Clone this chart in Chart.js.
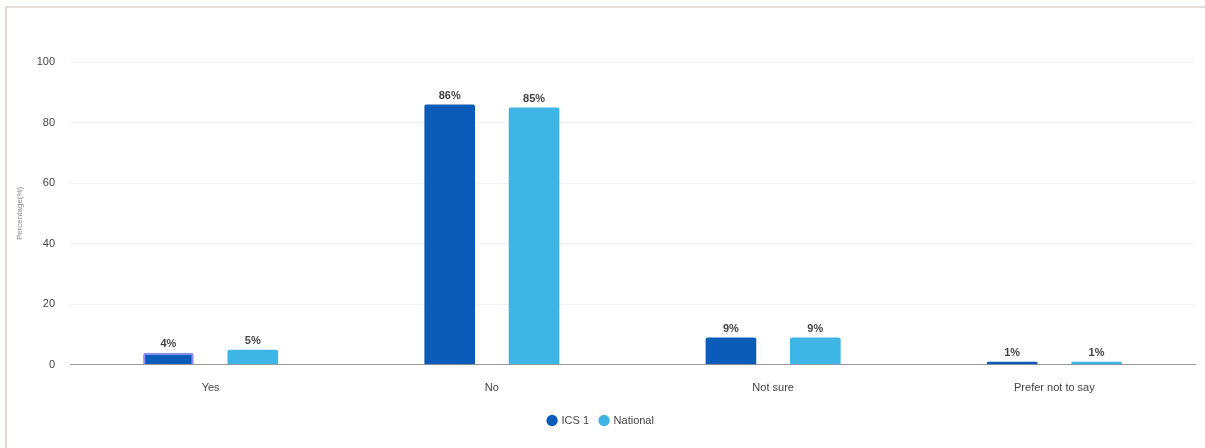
<!DOCTYPE html>
<html lang="en">

<head>
    <meta charset="UTF-8">
    <title>Percentage chart</title>
    <script src="https://cdn.jsdelivr.net/npm/chart.js"></script>
    <style>
        body { margin: 0; background: #fff; }
        #wrap {
            position: absolute; left: 5px; top: 6px;
            width: 1198px; height: 440px;
            border-left: 2px solid #e4dcd8; border-top: 2px solid #e4dcd8;
        }
    </style>
</head>

<body>
    <div id="wrap"><canvas id="chart"></canvas></div>

    <script>
        const categories = ['Yes', 'No', 'Not sure', 'Prefer not to say'];
        const ics1 = [4, 86, 9, 1];
        const national = [5, 85, 9, 1];
        const yTicks = [0, 20, 40, 60, 80, 100];

        const font = '"Liberation Sans", Arial, sans-serif';

        // percent labels above each bar
        const barLabels = {
            id: 'barLabels',
            afterDatasetsDraw(chart) {
                const ctx = chart.ctx;
                ctx.save();
                ctx.font = 'bold 11px ' + font;
                ctx.fillStyle = '#444';
                ctx.textAlign = 'center';
                ctx.textBaseline = 'bottom';
                chart.data.datasets.forEach((ds, i) => {
                    chart.getDatasetMeta(i).data.forEach((bar, j) => {
                        ctx.fillText(ds.data[j] + '%', bar.x, bar.y - 3);
                    });
                });
                ctx.restore();
            }
        };

        new Chart(document.getElementById('chart'), {
            type: 'bar',
            data: {
                labels: categories,
                datasets: [{
                    label: 'ICS 1',
                    data: ics1,
                    backgroundColor: '#0a5cb8',
                    borderColor: ['#8a8cff', '#0a5cb8', '#0a5cb8', '#0a5cb8'],
                    borderWidth: [2, 0, 0, 0],
                    borderRadius: 2,
                    borderSkipped: 'bottom'
                }, {
                    label: 'National',
                    data: national,
                    backgroundColor: '#3eb5e5',
                    borderRadius: 2,
                    borderSkipped: 'bottom'
                }]
            },
            options: {
                responsive: true,
                maintainAspectRatio: false,
                animation: false,
                categoryPercentage: 0.6,
                barPercentage: 0.6,
                layout: { padding: { top: 54, right: 10, bottom: 12, left: 0 } },
                plugins: {
                    tooltip: { enabled: false },
                    legend: {
                        position: 'bottom',
                        labels: {
                            usePointStyle: true,
                            pointStyle: 'circle',
                            boxWidth: 8,
                            boxHeight: 8,
                            padding: 11,
                            color: '#444',
                            font: { family: font, size: 11 },
                            generateLabels(chart) {
                                return chart.data.datasets.map((ds, i) => ({
                                    text: ds.label,
                                    fillStyle: ds.backgroundColor,
                                    strokeStyle: ds.backgroundColor,
                                    lineWidth: 0,
                                    pointStyle: 'circle',
                                    fontColor: '#444',
                                    hidden: false,
                                    datasetIndex: i
                                }));
                            }
                        }
                    }
                },
                scales: {
                    x: {
                        grid: { display: false },
                        border: { color: '#999', width: 1 },
                        ticks: {
                            color: '#444',
                            padding: 9,
                            font: { family: font, size: 11 }
                        }
                    },
                    y: {
                        min: 0,
                        max: 100,
                        afterBuildTicks(axis) {
                            axis.ticks = yTicks.map(v => ({ value: v }));
                        },
                        afterFit(axis) { axis.width = 63; },
                        grid: { color: '#f1f1f1', drawTicks: false },
                        border: { display: false },
                        ticks: {
                            color: '#444',
                            padding: 15,
                            font: { family: font, size: 11 }
                        },
                        title: {
                            display: true,
                            text: 'Percentage(%)',
                            color: '#888',
                            padding: { top: 8, bottom: 0 },
                            font: { family: font, size: 8 }
                        }
                    }
                }
            },
            plugins: [barLabels]
        });
    </script>
</body>

</html>
